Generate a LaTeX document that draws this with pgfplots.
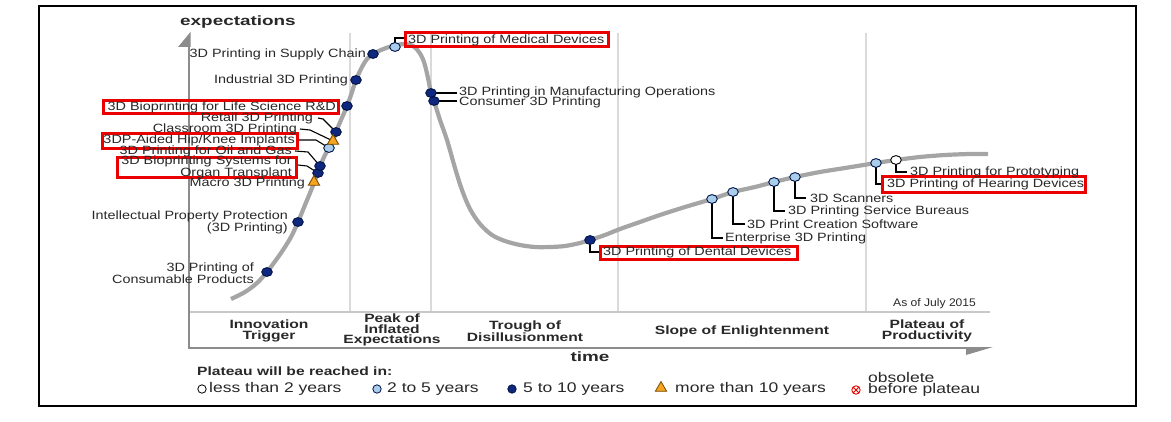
\documentclass[border=0pt]{standalone}
\usepackage{fontspec}
\setmainfont{Liberation Sans}
\newfontfamily\lblf{Liberation Sans}[FakeStretch=1.2]
\newfontfamily\phf{Liberation Sans}[FakeStretch=1.3]
\newfontfamily\legf{Liberation Sans}[FakeStretch=1.25]
\newfontfamily\ttlf{Liberation Sans}[FakeStretch=1.4]
\newfontfamily\asf{Liberation Sans}[FakeStretch=1.1]
\usepackage{pgfplots}
\pgfplotsset{compat=1.18}
\definecolor{navy}{RGB}{15,40,125}
\definecolor{navyE}{RGB}{0,20,70}
\definecolor{lblue}{RGB}{170,205,235}
\definecolor{orng}{RGB}{245,165,30}
\definecolor{orngE}{RGB}{120,75,0}
\definecolor{crv}{RGB}{165,165,165}
\definecolor{sepc}{RGB}{218,218,218}
\definecolor{axg}{RGB}{140,140,140}
\definecolor{txt}{RGB}{40,40,40}
\definecolor{redb}{RGB}{235,0,0}
\begin{document}
\begin{tikzpicture}[
  lbl/.style={inner sep=0pt, text=txt, font=\lblf\fontsize{12bp}{10.5bp}\selectfont},
  ph/.style={inner sep=0pt, text=txt, align=center, font=\phf\bfseries\fontsize{12bp}{10.8bp}\selectfont},
  leg/.style={inner sep=0pt, text=txt, font=\legf\fontsize{14bp}{12bp}\selectfont},
  lead/.style={black, line width=1.1bp},
  rbox/.style={redb, line width=3bp}]
\begin{axis}[scale only axis, width=1171bp, height=421bp,
  xmin=0, xmax=1171, ymin=0, ymax=421, y dir=reverse,
  hide axis, clip=false]
\path (0,0) rectangle (1171,421);
% outer frame
\draw[black, line width=1.5bp] (39,6) rectangle (1136,406);
% phase separators
\draw[sepc, line width=2bp] (350,33) -- (350,312);
\draw[sepc, line width=2bp] (431,33) -- (431,312);
\draw[sepc, line width=2bp] (618,33) -- (618,312);
\draw[sepc, line width=2bp] (866,33) -- (866,312);
\draw[sepc!80!gray, line width=1.5bp] (189,312) -- (990,312);
% axes
\draw[axg, line width=2bp] (189,36) -- (189,348) -- (975,348);
\fill[axg] (190.5,32) -- (190.5,47) -- (178,47) -- cycle;
\fill[axg] (966,347) -- (993,347) -- (966,355) -- cycle;
% titles
\node[inner sep=0pt, anchor=west, font=\ttlf\bfseries\fontsize{13.5bp}{14bp}\selectfont, text=txt] at (180,22) {expectations};
\node[inner sep=0pt, font=\ttlf\bfseries\fontsize{13.5bp}{14bp}\selectfont, text=txt] at (590,357) {time};
% phase labels
\node[ph] at (269,331) {Innovation\\Trigger};
\node[ph] at (392,330) {Peak of\\Inflated\\Expectations};
\node[ph] at (525,331) {Trough of\\Disillusionment};
\node[ph] at (742,331) {Slope of Enlightenment};
\node[ph] at (927,331) {Plateau of\\Productivity};
\node[inner sep=0pt, anchor=west, text=txt, font=\asf\fontsize{11bp}{12bp}\selectfont] at (893,304) {As of July 2015};
% hype curve
\addplot[crv, line width=4.2bp, smooth, tension=0.55] coordinates {
(231,299) (245,292) (257,283) (267,272) (276,260) (283,250) (291,237) (298,222)
(305,205) (310,193) (314,183) (318,172) (321,164) (325,155) (329,148) (333,141)
(336,132) (341,120) (347,106) (351,95) (356,80) (362,67) (367,59) (373,54)
(381,50) (389,47) (397,45) (405,44) (413,46) (419,52) (424,62) (428,78)
(431,93) (434,101) (440,120) (447,140) (455,168) (462,190) (470,209) (480,224)
(492,235) (505,241) (520,245) (535,247) (550,247) (565,246) (580,243) (590,240)
(605,235) (620,229) (640,222) (660,215) (685,207) (712,199) (733,192) (755,187)
(774,182) (795,177) (820,172) (845,168) (876,163) (896,160) (920,157) (945,155)
(970,154) (988,154)};
% leaders
\draw[lead] (318,118) -- (323,119) -- (336,132);
\draw[lead] (300,129) -- (310,130) -- (333,141);
\draw[lead] (299,140) -- (316,140) -- (329,148);
\draw[lead] (295,151) -- (308,152) -- (320,166);
\draw[lead] (298,165) -- (307,166) -- (318,173);
\draw[lead] (395,44) -- (395,38) -- (405,38);
\draw[lead] (431,93) -- (457,93);
\draw[lead] (434,101) -- (457,101);
\draw[lead] (590,240) -- (590,252) -- (600,252);
\draw[lead] (712,199) -- (712,238) -- (723,238);
\draw[lead] (733,192) -- (733,224) -- (745,224);
\draw[lead] (774,182) -- (774,211) -- (785,211);
\draw[lead] (795,177) -- (795,198) -- (806,198);
\draw[lead] (876,163) -- (876,184) -- (884,184);
\draw[lead] (896,160) -- (896,172) -- (907,172);
% markers: 5 to 10 years
\addplot[only marks, mark=*, mark size=4.4bp, mark options={xscale=1.2, fill=navy, draw=navyE, line width=0.9bp}] coordinates {
(267,272) (298,222) (318,173) (320,166) (336,132) (347,106) (356,80) (373,54)
(431,93) (434,101) (590,240)};
% 2 to 5 years
\addplot[only marks, mark=*, mark size=4.4bp, mark options={xscale=1.2, fill=lblue, draw=navyE, line width=0.9bp}] coordinates {
(329,148) (395,47) (712,199) (733,192) (774,182) (795,177) (876,163)};
% less than 2 years
\addplot[only marks, mark=*, mark size=4.4bp, mark options={xscale=1.2, fill=white, draw=black, line width=0.9bp}] coordinates {
(896,160)};
% more than 10 years
\addplot[only marks, mark=triangle*, mark size=6.5bp, mark options={fill=orng, draw=orngE, line width=0.9bp}] coordinates {
(333,141) (314,182)};
% red boxes
\draw[rbox] (405,33) rectangle (608,47);
\draw[rbox] (103,100) rectangle (338,113);
\draw[rbox] (102,133) rectangle (297,148);
\draw[rbox] (117,157) rectangle (296,177);
\draw[rbox] (600,246) rectangle (797,259);
\draw[rbox] (882,176) rectangle (1085,192);
% left labels
\node[lbl, anchor=east] at (366,54) {3D Printing in Supply Chain};
\node[lbl, anchor=east] at (348,80) {Industrial 3D Printing};
\node[lbl, anchor=east] at (336,107) {3D Bioprinting for Life Science R\&D};
\node[lbl, anchor=east] at (313,118) {Retail 3D Printing};
\node[lbl, anchor=east] at (297,129) {Classroom 3D Printing};
\node[lbl, anchor=east] at (295,140) {3DP-Aided Hip/Knee Implants};
\node[lbl, anchor=east] at (292,151) {3D Printing for Oil and Gas};
\node[lbl, anchor=east, align=right] at (292,167) {3D Bioprinting Systems for\\Organ Transplant};
\node[lbl, anchor=east] at (305,183) {Macro 3D Printing};
\node[lbl, anchor=east, align=right] at (288,222) {Intellectual Property Protection\\(3D Printing)};
\node[lbl, anchor=east, align=right] at (254,273) {3D Printing of\\Consumable Products};
% right labels
\node[lbl, anchor=west] at (408,40) {3D Printing of Medical Devices};
\node[lbl, anchor=west] at (459,92) {3D Printing in Manufacturing Operations};
\node[lbl, anchor=west] at (459,102) {Consumer 3D Printing};
\node[lbl, anchor=west] at (603,252) {3D Printing of Dental Devices};
\node[lbl, anchor=west] at (725,238) {Enterprise 3D Printing};
\node[lbl, anchor=west] at (747,224) {3D Print Creation Software};
\node[lbl, anchor=west] at (788,211) {3D Printing Service Bureaus};
\node[lbl, anchor=west] at (810,198) {3D Scanners};
\node[lbl, anchor=west] at (887,184) {3D Printing of Hearing Devices};
\node[lbl, anchor=west] at (910,172) {3D Printing for Prototyping};
% legend
\node[inner sep=0pt, anchor=west, text=txt, font=\phf\bfseries\fontsize{12bp}{12bp}\selectfont] at (197,371) {Plateau will be reached in:};
\addplot[only marks, mark=*, mark size=4.2bp, mark options={fill=white, draw=black, line width=0.8bp}] coordinates {(202,389)};
\addplot[only marks, mark=*, mark size=4.2bp, mark options={fill=lblue, draw=navyE, line width=0.8bp}] coordinates {(377,389)};
\addplot[only marks, mark=*, mark size=4.2bp, mark options={fill=navy, draw=navyE, line width=0.8bp}] coordinates {(512,389)};
\addplot[only marks, mark=triangle*, mark size=6.5bp, mark options={fill=orng, draw=orngE, line width=0.8bp}] coordinates {(661,388)};
\addplot[only marks, mark=otimes, mark size=4.2bp, mark options={draw=redb, line width=0.9bp}] coordinates {(856,390)};
\node[leg, anchor=west] at (209,389) {less than 2 years};
\node[leg, anchor=west] at (387,389) {2 to 5 years};
\node[leg, anchor=west] at (523,389) {5 to 10 years};
\node[leg, anchor=west] at (675,389) {more than 10 years};
\node[leg, anchor=west] at (868,377) {obsolete};
\node[leg, anchor=west] at (868,390) {before plateau};
\end{axis}
\end{tikzpicture}
\end{document}
